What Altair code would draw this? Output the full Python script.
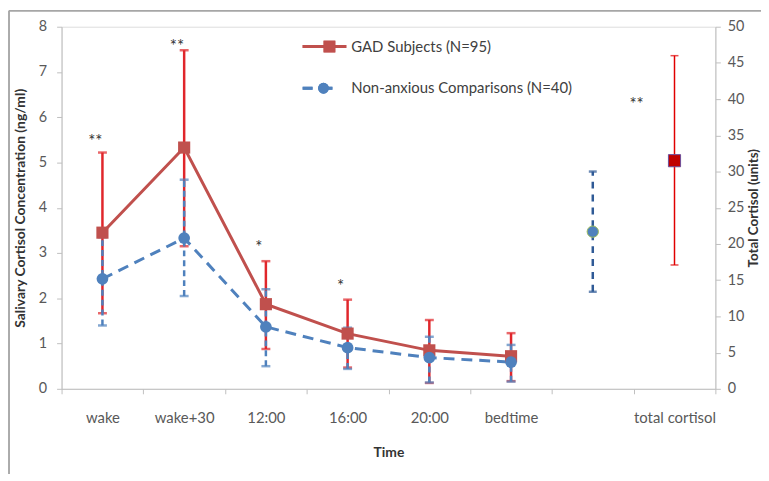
import altair as alt
import pandas as pd

# ---------------- data ----------------
categories = ["wake", "wake+30", "12:00", "16:00", "20:00", "bedtime", " ", "total cortisol"]
times = ["wake", "wake+30", "12:00", "16:00", "20:00", "bedtime"]

gad_mean = [3.45, 5.33, 1.87, 1.22, 0.85, 0.72]
gad_hi = [5.22, 7.48, 2.82, 1.97, 1.52, 1.23]
gad_lo = [1.67, 3.15, 0.88, 0.47, 0.13, 0.17]

nac_mean = [2.43, 3.33, 1.37, 0.91, 0.69, 0.59]
nac_hi = [3.35, 4.62, 2.20, 1.35, 1.15, 0.97]
nac_lo = [1.40, 2.05, 0.50, 0.44, 0.14, 0.16]

total_cat = [" ", "total cortisol"]
total_series = ["Non-anxious", "GAD"]
total_mean = [21.7, 31.5]
total_hi = [30.0, 46.0]
total_lo = [13.4, 17.1]

sig_cat = ["wake", "wake+30", "12:00", "16:00"]
sig_text = ["**", "**", "*", "*"]
sig_y = [5.45, 7.55, 3.1, 2.25]

total_sig_cat = ["total cortisol"]
total_sig_text = ["**"]
total_sig_y = [39.2]

legend_labels = ["GAD Subjects (N=95)", "Non-anxious  Comparisons (N=40)"]

RED = "#C0504D"
RED_ERR = "#E0262B"
BLUE = "#4F81BD"
GRAY = "#BFBFBF"
FONT = "Lato"

gad = pd.DataFrame({"time": times, "mean": gad_mean, "hi": gad_hi, "lo": gad_lo})
nac = pd.DataFrame({"time": times, "mean": nac_mean, "hi": nac_hi, "lo": nac_lo})
tot = pd.DataFrame({"time": total_cat, "series": total_series, "mean": total_mean,
                    "hi": total_hi, "lo": total_lo})
sig = pd.DataFrame({"time": sig_cat, "txt": sig_text, "y": sig_y})
tsig = pd.DataFrame({"time": total_sig_cat, "txt": total_sig_text, "y": total_sig_y})

x_axis = alt.Axis(tickBand="extent", labelAngle=0, domainColor=GRAY, tickColor=GRAY,
                  tickSize=5, labelPadding=17, labelFontSize=15, labelColor="#595959",
                  title="Time", titleFontSize=14, titleFontWeight="bold", titleColor="#333333",
                  titlePadding=20, labelFont=FONT, titleFont=FONT)
X = alt.X("time:N", scale=alt.Scale(type="band", domain=categories, paddingInner=0, paddingOuter=0),
          axis=x_axis)

left_axis = alt.Axis(values=list(range(9)), grid=False, domainColor=GRAY, tickColor=GRAY, tickSize=5,
                     labelColor="#595959", labelFontSize=14.5, labelPadding=10, titleFontSize=14,
                     titleFontWeight="bold", titleColor="#333333", titlePadding=11, format="d",
                     labelFont=FONT, titleFont=FONT)
right_axis = alt.Axis(orient="right", values=list(range(0, 51, 5)), grid=False, domainColor=GRAY,
                      tickColor=GRAY, tickSize=5, labelColor="#595959", labelFontSize=14.5,
                      labelPadding=7, titleFontSize=13.5, titleFontWeight="bold", titleColor="#333333",
                      titlePadding=3, titleAngle=270, titleBaseline="top", format="d",
                      labelFont=FONT, titleFont=FONT)

LT = "Salivary Cortisol Concentration (ng/ml)"
RT = "Total Cortisol (units)"


def yl(field):
    return alt.Y(field, type="quantitative", scale=alt.Scale(domain=[0, 8], nice=False),
                 axis=left_axis, title=LT)


def yr(field):
    return alt.Y(field, type="quantitative", scale=alt.Scale(domain=[0, 50], nice=False),
                 axis=right_axis, title=RT)


# ---------------- left (time series) ----------------
red_err = alt.Chart(gad).mark_rule(color=RED_ERR, strokeWidth=2.5).encode(x=X, y=yl("lo"), y2="hi:Q")
red_cap = alt.Chart(gad).transform_fold(["lo", "hi"]).mark_tick(
    color=RED_ERR, thickness=2.5, size=9).encode(x=X, y=yl("value"))
blue_err = alt.Chart(nac).mark_rule(color=BLUE, strokeWidth=2.5, strokeDash=[6, 4]).encode(
    x=X, y=yl("lo"), y2="hi:Q")
blue_cap = alt.Chart(nac).transform_fold(["lo", "hi"]).mark_tick(
    color=BLUE, thickness=2.5, size=9).encode(x=X, y=yl("value"))
red_line = alt.Chart(gad).mark_line(color=RED, strokeWidth=3).encode(x=X, y=yl("mean"))
blue_line = alt.Chart(nac).mark_line(color=BLUE, strokeWidth=3, strokeDash=[11, 7]).encode(
    x=X, y=yl("mean"))
red_pts = alt.Chart(gad).mark_point(shape="square", filled=True, size=150, color=RED, opacity=1).encode(
    x=X, y=yl("mean"))
blue_pts = alt.Chart(nac).mark_circle(size=140, color=BLUE, opacity=1).encode(x=X, y=yl("mean"))
sig_txt = alt.Chart(sig).mark_text(fontSize=17, color="#333333", font=FONT, baseline="middle").encode(
    x=X, y=yl("y"), text="txt:N", xOffset=alt.value(34))

# legend
leg = pd.DataFrame({"label": legend_labels})
leg_red_line = alt.Chart(leg).mark_rule(color=RED, strokeWidth=3).encode(
    x=alt.value(243), x2=alt.value(287), y=alt.value(20))
leg_red_pt = alt.Chart(leg).mark_point(shape="square", filled=True, size=140, color=RED, opacity=1).encode(
    x=alt.value(270), y=alt.value(20))
leg_blue_line = alt.Chart(leg).mark_rule(color=BLUE, strokeWidth=3, strokeDash=[10, 10]).encode(
    x=alt.value(243), x2=alt.value(277), y=alt.value(62))
leg_blue_pt = alt.Chart(leg).mark_circle(size=120, color=BLUE, opacity=1).encode(
    x=alt.value(264), y=alt.value(62))
leg_txt1 = alt.Chart(leg).transform_filter(alt.datum.label == legend_labels[0]).mark_text(
    align="left", baseline="middle", fontSize=15, color="#404040", font=FONT).encode(
    x=alt.value(292), y=alt.value(20), text="label:N")
leg_txt2 = alt.Chart(leg).transform_filter(alt.datum.label == legend_labels[1]).mark_text(
    align="left", baseline="middle", fontSize=15, color="#404040", font=FONT).encode(
    x=alt.value(292), y=alt.value(62), text="label:N")

# outer frame (top and left edges)
frame_top = alt.Chart(leg).mark_rule(color="#A6A6A6", strokeWidth=1.5).encode(
    x=alt.value(-53), x2=alt.value(760), y=alt.value(-16))
frame_left = alt.Chart(leg).mark_rule(color="#A6A6A6", strokeWidth=1.5).encode(
    x=alt.value(-53), y=alt.value(-16), y2=alt.value(470))

left = alt.layer(red_err, red_cap, blue_err, blue_cap, red_line, blue_line, red_pts, blue_pts,
                 sig_txt, leg_red_line, leg_red_pt, leg_blue_line, leg_blue_pt, leg_txt1, leg_txt2,
                 frame_top, frame_left)

# ---------------- right (total cortisol) ----------------
tg = tot[tot.series == "GAD"]
tn = tot[tot.series == "Non-anxious"]
t_blue_err = alt.Chart(tn).mark_rule(color="#2F5A96", strokeWidth=2.5, strokeDash=[7, 6]).encode(
    x=X, y=yr("lo"), y2="hi:Q")
t_blue_cap = alt.Chart(tn).transform_fold(["lo", "hi"]).mark_tick(
    color="#2F5A96", thickness=2.5, size=8).encode(x=X, y=yr("value"))
t_red_err = alt.Chart(tg).mark_rule(color="#E00000", strokeWidth=1.5).encode(x=X, y=yr("lo"), y2="hi:Q")
t_red_cap = alt.Chart(tg).transform_fold(["lo", "hi"]).mark_tick(
    color="#E00000", thickness=1.5, size=8).encode(x=X, y=yr("value"))
t_blue_pt = alt.Chart(tn).mark_circle(size=130, color=BLUE, opacity=1, stroke="#9BBB59",
                                      strokeWidth=1).encode(x=X, y=yr("mean"))
t_red_pt = alt.Chart(tg).mark_point(shape="square", filled=True, size=150, color="#C00000", opacity=1,
                                    stroke="#6B4E9B", strokeWidth=1).encode(x=X, y=yr("mean"))
t_sig = alt.Chart(tsig).mark_text(fontSize=17, color="#333333", font=FONT, baseline="middle").encode(
    x=X, y=yr("y"), text="txt:N", xOffset=alt.value(3))

right = alt.layer(t_blue_err, t_blue_cap, t_red_err, t_red_cap, t_blue_pt, t_red_pt, t_sig)

chart = alt.layer(left, right).resolve_scale(y="independent").properties(
    width=659, height=365,
    autosize=alt.AutoSizeParams(type="none"),
    padding={"left": 54, "top": 17, "right": 46, "bottom": 84},
).configure_view(stroke=None).configure(font=FONT)

chart.save("out.html", embed_options={"renderer": "svg", "actions": False})
